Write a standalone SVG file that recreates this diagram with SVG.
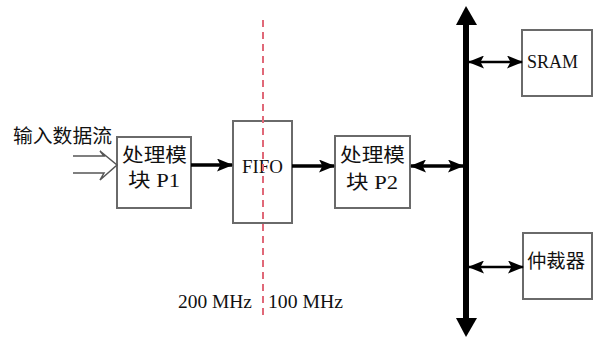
<svg xmlns="http://www.w3.org/2000/svg" width="594" height="340" viewBox="0 0 594 340">
<style>
.box{fill:#fff;stroke:#6a6a6a;stroke-width:2}
.cjk{font-family:"Liberation Serif","Noto Sans CJK SC",serif;font-size:19px;fill:#111}
.lat{font-family:"Liberation Serif","Noto Sans CJK SC",serif;font-size:19px;fill:#111}
.arr{stroke:#000;stroke-width:3.5;fill:none}
.arr2{stroke:#000;stroke-width:2.5;fill:none}
</style>
<defs>
<marker id="ah" markerUnits="userSpaceOnUse" markerWidth="16" markerHeight="13" refX="15" refY="6.5" orient="auto-start-reverse" viewBox="0 0 16 13">
<path d="M0,0 L16,6.5 L0,13 L3.5,6.5 Z" fill="#000"/>
</marker>
</defs>
<g id="input-label"><text class="cjk" x="13" y="143" textLength="99" lengthAdjust="spacingAndGlyphs">输入数据流</text></g>
<g id="P1"><rect class="box" x="117" y="137" width="74" height="71"/>
<text class="cjk" x="122" y="162" textLength="65" lengthAdjust="spacingAndGlyphs">处理模</text>
<text class="cjk" x="128" y="187" textLength="52" lengthAdjust="spacingAndGlyphs">块 P1</text></g>
<g id="FIFO"><rect class="box" x="233" y="121" width="59" height="102"/>
<text class="lat" x="242" y="173" textLength="41" lengthAdjust="spacingAndGlyphs">FIFO</text></g>
<g id="P2"><rect class="box" x="335" y="136" width="75" height="72"/>
<text class="cjk" x="340" y="162" textLength="65" lengthAdjust="spacingAndGlyphs">处理模</text>
<text class="cjk" x="346" y="189" textLength="52" lengthAdjust="spacingAndGlyphs">块 P2</text></g>
<g id="SRAM"><rect class="box" x="522" y="30" width="70" height="66"/>
<text class="lat" x="527" y="68" textLength="51" lengthAdjust="spacingAndGlyphs">SRAM</text></g>
<g id="arbiter"><rect class="box" x="523" y="233" width="69" height="66"/>
<text class="cjk" x="527" y="268" textLength="58" lengthAdjust="spacingAndGlyphs">仲裁器</text></g>
<g id="bus">
<line x1="466" y1="20" x2="466" y2="322" stroke="#000" stroke-width="6"/>
<polygon points="466,6 456,25 477,25" fill="#000"/>
<polygon points="466,337 456,318 477,318" fill="#000"/>
</g>
<g id="connectors">
<path d="M73,156 H104 L100,151 L117,165 L100,180 L104,173 H73" fill="none" stroke="#555" stroke-width="1.5"/>
<line class="arr" x1="191" y1="165" x2="232" y2="165" marker-end="url(#ah)"/>
<line class="arr" x1="292" y1="166" x2="334" y2="166" marker-end="url(#ah)"/>
<line class="arr" x1="411" y1="166" x2="463" y2="166" marker-start="url(#ah)" marker-end="url(#ah)"/>
<line class="arr2" x1="469" y1="62" x2="522" y2="62" marker-start="url(#ah)" marker-end="url(#ah)"/>
<line class="arr2" x1="469" y1="267" x2="523" y2="267" marker-start="url(#ah)" marker-end="url(#ah)"/>
</g>
<g id="clock-boundary">
<line x1="263" y1="20" x2="263" y2="320" stroke="#e06878" stroke-width="2" stroke-dasharray="7 5"/>
<text class="lat" x="178" y="308" textLength="74" lengthAdjust="spacingAndGlyphs">200 MHz</text>
<text class="lat" x="268" y="308" textLength="75" lengthAdjust="spacingAndGlyphs">100 MHz</text>
</g>
</svg>
